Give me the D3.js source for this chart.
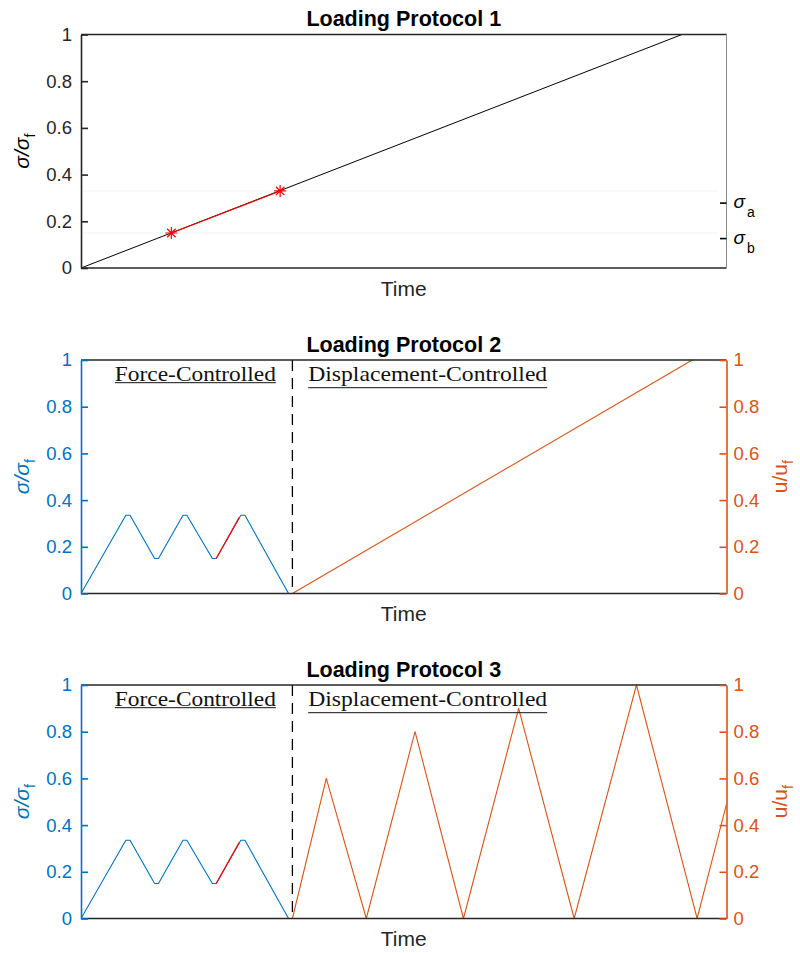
<!DOCTYPE html>
<html>
<head>
<meta charset="utf-8">
<script src="https://cdn.jsdelivr.net/npm/d3@7"></script>
<style>
body { margin: 0; background: #fff; }
svg { display: block; font-family: "Liberation Sans", Arial, sans-serif; }
</style>
</head>
<body>
<div id="chart"></div>
<script>
// ---- data (time is in arbitrary units, 0..100 across the box) ----
const stressTicks = [0, 0.2, 0.4, 0.6, 0.8, 1];
const dispTicks = [0, 0.2, 0.4, 0.6, 0.8, 1];
const titles = ["Loading Protocol 1", "Loading Protocol 2", "Loading Protocol 3"];

// protocol 1: monotonic ramp, red window between sigma_b and sigma_a
const rampTime = [0, 93.1];
const rampStress = [0, 1];
const windowTime = [14.0, 30.85];
const windowStress = [0.15, 0.33];
const sigmaLevels = [0.278, 0.126];
const sigmaNames = ["a", "b"];

// protocols 2 and 3: force controlled part
const forceTime = [0, 6.95, 7.6, 11.4, 12.0, 15.8, 16.4, 20.35, 20.95, 24.75, 25.4, 32.15, 32.75];
const forceStress = [0, 0.335, 0.335, 0.15, 0.15, 0.335, 0.335, 0.15, 0.15, 0.335, 0.335, 0, 0];
const redTime = [20.95, 24.5];
const redStress = [0.15, 0.325];
const switchTime = 32.75;

// protocol 2: displacement ramp
const monoTime = [32.75, 94.7];
const monoDisp = [0, 1];

// protocol 3: displacement cycles
const cycTime = [32.75, 38.0, 44.2, 51.75, 59.25, 67.8, 76.4, 86.05, 95.45, 100];
const cycDisp = [0, 0.6, 0, 0.8, 0, 0.9, 0, 1, 0, 0.49];

const forceLabel = "Force-Controlled";
const dispLabel = "Displacement-Controlled";

// ---- style ----
const blue = "#0072BD", orange = "#D95319", red = "#FF0000", dark = "#262626";
const tickFont = 18.5, labelFont = 21;

const svg = d3.select("#chart").append("svg")
    .attr("width", 800)
    .attr("height", 953);

const x = d3.scaleLinear().domain([0, 100]).range([81, 726.5]);
const plotTop = [34.5, 360, 685],
    plotH = 233.5;
const fmt = d3.format("");

let line = d3.line().x(d => x(d[0]));

function yScale(i) {
    return d3.scaleLinear().domain([0, 1]).range([plotTop[i] + plotH, plotTop[i]]);
}

function drawPath(g, y, times, values, color, w) {
    g.append("path")
        .datum(d3.zip(times, values))
        .attr("fill", "none")
        .attr("stroke", color)
        .attr("stroke-width", w)
        .attr("stroke-linejoin", "round")
        .attr("d", line.y(d => y(d[1])));
}

function subLabel(g, tx, ty, main, sub, color, rotate, italic) {
    let t = g.append("text")
        .attr("transform", "translate(" + tx + "," + ty + ")" + (rotate ? " rotate(-90)" : ""))
        .attr("text-anchor", rotate ? "middle" : "start")
        .attr("fill", color)
        .attr("font-size", labelFont);
    t.append("tspan").attr("font-style", italic ? "italic" : null).text(main);
    t.append("tspan").attr("dy", rotate ? 6 : 9).attr("font-size", 14).text(sub);
    return t;
}

function leftAxis(g, y, color) {
    let a = g.append("g")
        .attr("transform", "translate(" + x.range()[0] + ",0)")
        .call(d3.axisLeft(y).tickValues(stressTicks).tickFormat(fmt).tickSize(-7).tickSizeOuter(0).tickPadding(9));
    a.attr("font-size", tickFont).attr("font-family", "Liberation Sans, Arial, sans-serif");
    a.select(".domain").attr("stroke", color).attr("stroke-width", 1.6);
    a.selectAll(".tick line").attr("stroke", color).attr("stroke-width", 1.6);
    a.selectAll(".tick text").attr("fill", color).style("font-size", tickFont + "px");
}

function topBottom(g, y) {
    [0, 1].forEach(v => {
        g.append("line")
            .attr("x1", x.range()[0]).attr("x2", x.range()[1])
            .attr("y1", y(v)).attr("y2", y(v))
            .attr("stroke", dark).attr("stroke-width", 1.6);
    });
}

function titleAndTime(g, i, y) {
    let cx = (x.range()[0] + x.range()[1]) / 2;
    g.append("text")
        .attr("x", cx).attr("y", plotTop[i] - 8.5)
        .attr("text-anchor", "middle")
        .attr("font-size", 21.5)
        .attr("font-weight", "bold")
        .attr("fill", "#000")
        .text(titles[i]);
    g.append("text")
        .attr("x", cx).attr("y", y(0) + 27.5)
        .attr("text-anchor", "middle")
        .attr("font-size", labelFont)
        .attr("fill", dark)
        .text("Time");
}

function starPath(r) {
    let d = r * Math.SQRT1_2;
    return "M" + (-r) + ",0H" + r + "M0," + (-r) + "V" + r +
        "M" + (-d) + "," + (-d) + "L" + d + "," + d +
        "M" + (-d) + "," + d + "L" + d + "," + (-d);
}

// ---------- protocol 1 ----------
(function () {
    let y = yScale(0);
    let g = svg.append("g");

    // faint reference lines at the window levels
    windowStress.forEach(s => {
        g.append("line")
            .attr("x1", x(0)).attr("x2", x(98.6))
            .attr("y1", y(s)).attr("y2", y(s))
            .attr("stroke", "#f2f2f2").attr("stroke-width", 1);
    });

    drawPath(g, y, rampTime, rampStress, "#000", 1);
    drawPath(g, y, windowTime, windowStress, red, 1.2);

    g.selectAll(".star").data(d3.zip(windowTime, windowStress)).enter()
        .append("path")
        .attr("class", "star")
        .attr("transform", d => "translate(" + x(d[0]) + "," + y(d[1]) + ")")
        .attr("d", starPath(6))
        .attr("fill", "none")
        .attr("stroke", red)
        .attr("stroke-width", 1.2);

    leftAxis(g, y, dark);
    topBottom(g, y);

    // right axis with sigma_a / sigma_b
    g.append("line")
        .attr("x1", x.range()[1]).attr("x2", x.range()[1])
        .attr("y1", y(0)).attr("y2", y(1))
        .attr("stroke", "#8a8a8a").attr("stroke-width", 1);
    sigmaLevels.forEach((s, k) => {
        g.append("line")
            .attr("x1", x.range()[1] - 6.5).attr("x2", x.range()[1])
            .attr("y1", y(s)).attr("y2", y(s))
            .attr("stroke", "#000").attr("stroke-width", 1.6);
        let t = g.append("text")
            .attr("x", x.range()[1] + 7)
            .attr("y", y(s) + 5)
            .attr("fill", "#000")
            .attr("font-size", 19);
        t.append("tspan").attr("font-style", "italic").text("σ");
        t.append("tspan").attr("dy", 9).attr("dx", 2).attr("font-size", 14).text(sigmaNames[k]);
    });

    subLabel(g, 29, (y(0) + y(1)) / 2, "σ/σ", "f", "#000", true, true);
    titleAndTime(g, 0, y);
})();

// ---------- protocols 2 and 3 ----------
[1, 2].forEach(i => {
    let y = yScale(i);
    let g = svg.append("g");

    let clipId = "clip" + i;
    g.append("clipPath").attr("id", clipId).append("rect")
        .attr("x", x(0)).attr("y", y(1) - 2)
        .attr("width", x(100) - x(0)).attr("height", plotH + 4);
    let data = g.append("g").attr("clip-path", "url(#" + clipId + ")");

    drawPath(data, y, forceTime, forceStress, blue, 1.1);
    drawPath(data, y, redTime, redStress, red, 1.2);
    if (i === 1) drawPath(data, y, monoTime, monoDisp, orange, 1.1);
    else drawPath(data, y, cycTime, cycDisp, orange, 1.1);

    g.append("line")
        .attr("x1", x(switchTime)).attr("x2", x(switchTime))
        .attr("y1", y(1)).attr("y2", y(0))
        .attr("stroke", "#000")
        .attr("stroke-width", 1.3)
        .attr("stroke-dasharray", "11,7");

    // annotations
    [[forceLabel, 5.25, 161, 2], [dispLabel, 35.2, 239, 7]].forEach(a => {
        let bx = x(a[1]), by = y(1) + 20.7;
        g.append("text")
            .attr("x", bx).attr("y", by)
            .attr("font-family", "Liberation Serif, Times New Roman, serif")
            .attr("font-size", 22)
            .attr("textLength", a[2])
            .attr("lengthAdjust", "spacingAndGlyphs")
            .attr("fill", "#111")
            .text(a[0]);
        g.append("line")
            .attr("x1", bx).attr("x2", bx + a[2])
            .attr("y1", by + a[3]).attr("y2", by + a[3])
            .attr("stroke", "#111").attr("stroke-width", 1);
    });

    topBottom(g, y);
    leftAxis(g, y, blue);

    let r = g.append("g")
        .attr("transform", "translate(" + x.range()[1] + ",0)")
        .call(d3.axisRight(y).tickValues(dispTicks).tickFormat(fmt).tickSize(-7).tickSizeOuter(0).tickPadding(7));
    r.attr("font-size", tickFont).attr("font-family", "Liberation Sans, Arial, sans-serif");
    r.select(".domain").attr("stroke", orange).attr("stroke-width", 1.6);
    r.selectAll(".tick line").attr("stroke", orange).attr("stroke-width", 1.6);
    r.selectAll(".tick text").attr("fill", orange).style("font-size", tickFont + "px");

    subLabel(g, 29, (y(0) + y(1)) / 2, "σ/σ", "f", blue, true, true);
    subLabel(g, 787, (y(0) + y(1)) / 2, "u/u", "f", orange, true, false);
    titleAndTime(g, i, y);
});
</script>
</body>
</html>
